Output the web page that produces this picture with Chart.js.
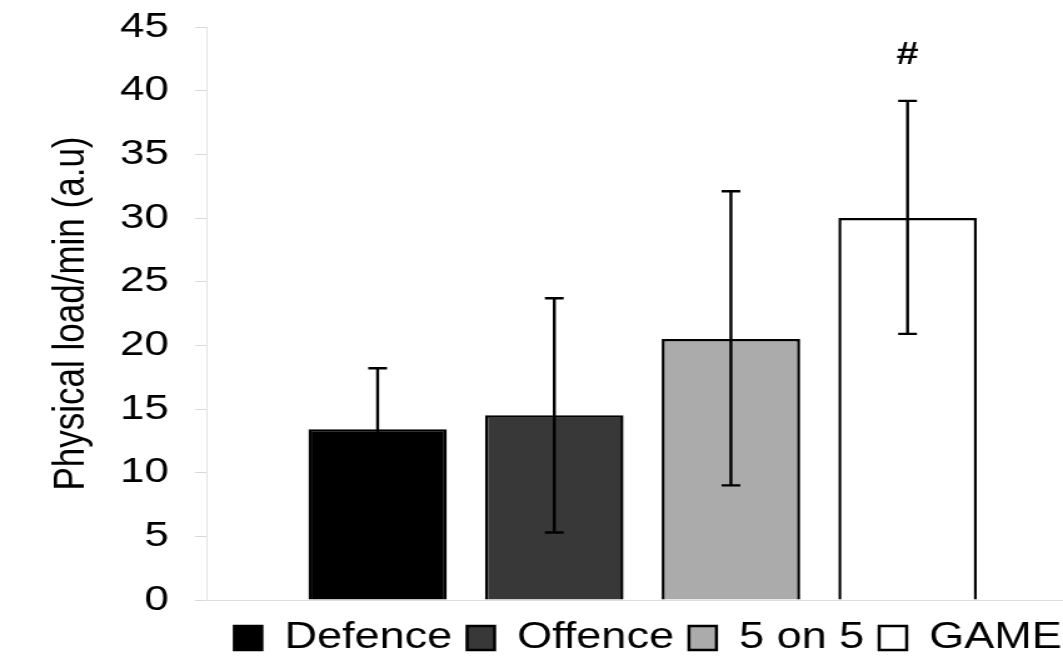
<!DOCTYPE html>
<html>
<head>
<meta charset="utf-8">
<script src="https://cdn.jsdelivr.net/npm/chart.js@4"></script>
<style>
  html, body { margin: 0; padding: 0; background: #fff; overflow: hidden; }
  /* the original figure is stretched horizontally, so draw narrower and widen */
  #wrap { width: 850px; height: 656px; transform: scaleX(1.2506); transform-origin: 0 0; }
</style>
</head>
<body>
<div id="wrap"><canvas id="chart" width="850" height="656"></canvas></div>
<script>
const categories = ["Defence", "Offence", "5 on 5", "GAME"];
const means = [13.4, 14.5, 20.5, 30.0];
const errHigh = [18.2, 23.7, 32.1, 39.2];
const errLow = [8.6, 5.3, 9.0, 20.9];
const markers = ["", "", "", "#"];
const markerLevel = 42.8;
const barColors = ["#000000", "#383838", "#ababab", "#ffffff"];
const yTitle = "Physical load/min (a.u)";

const FONT = "'Liberation Sans', Arial, Helvetica, sans-serif";

const errorBars = {
  id: "errorBars",
  afterDatasetsDraw(chart) {
    const ctx = chart.ctx;
    const yScale = chart.scales.y;
    chart.data.datasets.forEach((ds, i) => {
      const bar = chart.getDatasetMeta(i).data[0];
      if (!bar) return;
      const x = bar.x;
      const top = yScale.getPixelForValue(errHigh[i]);
      const bottom = yScale.getPixelForValue(errLow[i]);
      ctx.save();
      ctx.strokeStyle = "#000";
      ctx.lineWidth = 2.4;
      ctx.beginPath();
      ctx.moveTo(x, top);
      ctx.lineTo(x, bottom);
      ctx.moveTo(x - 7.5, top);
      ctx.lineTo(x + 7.5, top);
      ctx.moveTo(x - 7.5, bottom);
      ctx.lineTo(x + 7.5, bottom);
      ctx.stroke();
      if (markers[i]) {
        ctx.fillStyle = "#000";
        ctx.font = "bold 32px " + FONT;
        ctx.textAlign = "center";
        ctx.textBaseline = "middle";
        ctx.fillText(markers[i], x, yScale.getPixelForValue(markerLevel));
      }
      ctx.restore();
    });
  }
};

const datasets = categories.map((name, i) => ({
  label: name,
  data: [{ x: i, y: means[i] }],
  backgroundColor: barColors[i],
  borderColor: "#000",
  borderWidth: 2.5,
  borderSkipped: "bottom",
  grouped: false,
  categoryPercentage: 1,
  barPercentage: 0.784
}));

new Chart(document.getElementById("chart"), {
  type: "bar",
  data: { datasets: datasets },
  options: {
    responsive: false,
    animation: false,
    devicePixelRatio: 1,
    layout: { padding: { left: 0, top: 27, right: -11, bottom: -10 } },
    scales: {
      x: {
        type: "linear",
        offset: false,
        min: -0.963,
        max: 3.88,
        grid: { display: false },
        border: { display: true, color: "#dddddd", width: 1 },
        ticks: { display: false, stepSize: 1, includeBounds: false }
      },
      y: {
        min: 0,
        max: 45,
        afterFit(scale) {
          // let the top of the plot sit right at the 45 tick
          scale.paddingTop = 0;
        },
        ticks: {
          stepSize: 5,
          color: "#000",
          padding: 21,
          font: { family: FONT, size: 35 }
        },
        grid: { drawOnChartArea: false, drawTicks: true, tickLength: 10, color: "#d9d9d9" },
        border: { display: true, color: "#e3e3e3", width: 1 },
        title: {
          display: true,
          text: yTitle,
          color: "#000",
          font: { family: FONT, size: 35, lineHeight: 1 },
          padding: { top: 40, bottom: 0 }
        }
      }
    },
    plugins: {
      legend: {
        position: "bottom",
        align: "end",
        labels: {
          color: "#000",
          boxWidth: 22,
          boxHeight: 24,
          padding: 12,
          font: { family: FONT, size: 36 }
        }
      },
      tooltip: { enabled: false }
    }
  },
  plugins: [errorBars]
});
</script>
</body>
</html>
